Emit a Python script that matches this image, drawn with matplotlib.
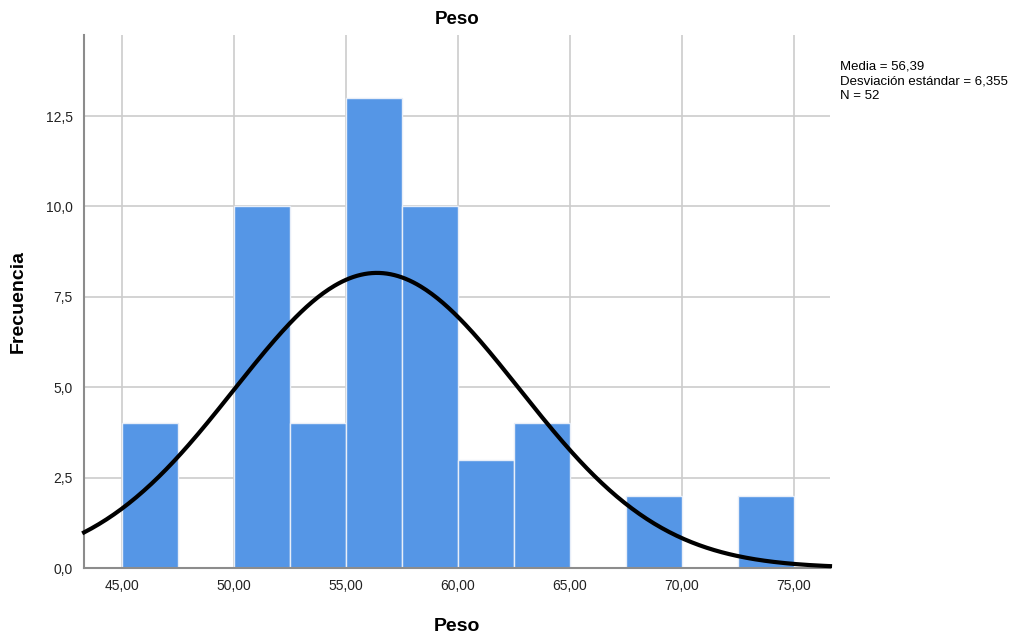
import numpy as np
import matplotlib
matplotlib.use("Agg")
import matplotlib.pyplot as plt

plt.rcParams['font.family'] = ['Liberation Sans', 'DejaVu Sans']

# Frecuencias por intervalo de 2,5 kg
bin_edges = [45.0, 47.5, 50.0, 52.5, 55.0, 57.5, 60.0, 62.5, 65.0, 67.5, 70.0, 72.5, 75.0]
counts = [4, 0, 10, 4, 13, 10, 3, 4, 0, 2, 0, 2]

media = 56.39
desv = 6.355
n = 52

x_ticks = [45, 50, 55, 60, 65, 70, 75]
y_ticks = [0, 2.5, 5.0, 7.5, 10.0, 12.5]

fig = plt.figure(figsize=(10.3, 6.4), dpi=100)
ax = fig.add_axes([0.0816, 0.1125, 0.7242, 0.8328])

ax.set_xlim(43.32, 76.6)
ax.set_ylim(0, 14.74)

ax.set_axisbelow(True)
ax.grid(True, color='#cccccc', linewidth=1.2)

ancho = np.diff(bin_edges)
ax.bar(bin_edges[:-1], counts, width=ancho, align='edge',
       color='#5596e6', edgecolor='#e8eef8', linewidth=1.0, zorder=2)

# Curva normal escalada a frecuencias
xs = np.linspace(43.32, 76.6, 400)
bw = bin_edges[1] - bin_edges[0]
ys = n * bw * np.exp(-0.5 * ((xs - media) / desv) ** 2) / (desv * np.sqrt(2 * np.pi))
ax.plot(xs, ys, color='black', linewidth=3, zorder=3, clip_on=False)

ax.set_xticks(x_ticks)
ax.set_xticklabels([f"{v:.2f}".replace('.', ',') for v in x_ticks])
ax.set_yticks(y_ticks)
ax.set_yticklabels([f"{v:.1f}".replace('.', ',') for v in y_ticks])
ax.tick_params(length=0, labelsize=10, colors='#222222', pad=8)

for s in ['top', 'right']:
    ax.spines[s].set_visible(False)
for s in ['left', 'bottom']:
    ax.spines[s].set_color('#8c8c8c')
    ax.spines[s].set_linewidth(1.5)

ax.set_title("Peso", fontsize=13.5, fontweight='bold', pad=8)
ax.set_xlabel("Peso", fontsize=14, fontweight='bold', labelpad=18)
ax.set_ylabel("Frecuencia", fontsize=14, fontweight='bold', labelpad=14)

fig.text(0.8155, 0.905,
         f"Media = {media:.2f}".replace('.', ',') + "\n"
         + f"Desviación estándar = {desv:.3f}".replace('.', ',') + "\n"
         + f"N = {n}",
         fontsize=9.5, va='top', ha='left', linespacing=1.3)

fig.savefig("out.png", dpi=100)
